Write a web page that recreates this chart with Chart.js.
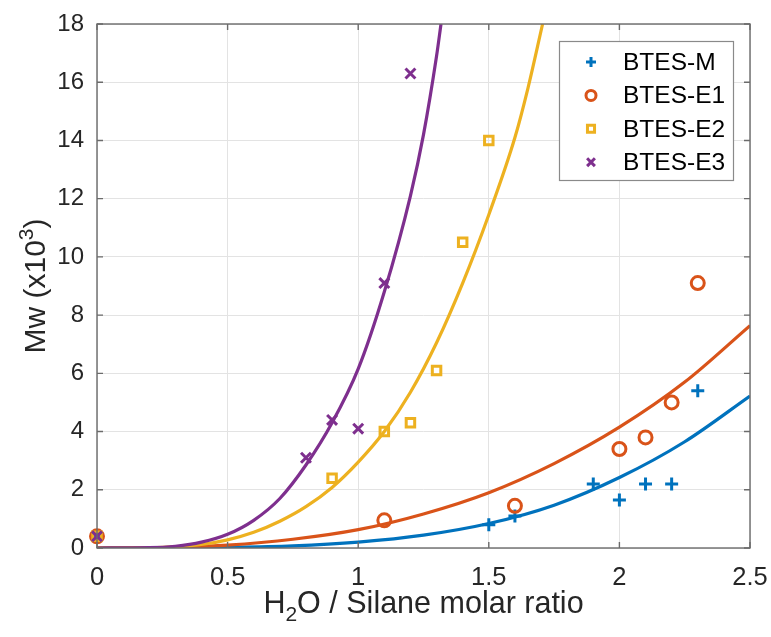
<!DOCTYPE html>
<html>
<head>
<meta charset="utf-8">
<script src="https://cdn.jsdelivr.net/npm/chart.js@4.4.1/dist/chart.umd.min.js"></script>
<style>
  html, body { margin: 0; padding: 0; background: #fff; }
  #chart { display: block; }
</style>
</head>
<body>
<canvas id="chart" width="771" height="637"></canvas>
<script>
var seriesNames = ["BTES-M", "BTES-E1", "BTES-E2", "BTES-E3"];
var seriesColors = ["#0072BD", "#D95319", "#EDB120", "#7E2F8E"];
var seriesMarkers = ["cross", "circle", "rect", "crossRot"];

// measured points
var mX = [0, 1.5, 1.6, 1.9, 2.0, 2.1, 2.2, 2.3];
var mY = [0.4, 0.8, 1.1, 2.2, 1.65, 2.2, 2.2, 5.4];
var e1X = [0, 1.1, 1.6, 2.0, 2.1, 2.2, 2.3];
var e1Y = [0.4, 0.95, 1.45, 3.4, 3.8, 5.0, 9.1];
var e2X = [0, 0.9, 1.1, 1.2, 1.3, 1.4, 1.5];
var e2Y = [0.4, 2.4, 4.0, 4.3, 6.1, 10.5, 14.0];
var e3X = [0, 0.8, 0.9, 1.0, 1.1, 1.2];
var e3Y = [0.4, 3.1, 4.4, 4.1, 9.1, 16.3];

// fitted curves
var fitMX = [0, 0.25, 0.5, 0.75, 1, 1.25, 1.5, 1.75, 2, 2.25, 2.5];
var fitMY = [0, 0.005, 0.02, 0.07, 0.2, 0.44, 0.84, 1.47, 2.42, 3.65, 5.22];
var fitE1X = [0, 0.25, 0.5, 0.75, 1, 1.25, 1.5, 1.75, 2, 2.25, 2.5];
var fitE1Y = [0, 0.015, 0.1, 0.3, 0.63, 1.17, 1.9, 2.9, 4.15, 5.7, 7.64];
var fitE2X = [0, 0.2, 0.3, 0.4, 0.5, 0.6, 0.7, 0.8, 0.9, 1.0, 1.1, 1.2, 1.3, 1.4, 1.5, 1.6, 1.65, 1.706];
var fitE2Y = [0, 0.01, 0.04, 0.12, 0.28, 0.54, 0.92, 1.42, 2.08, 2.95, 4.0, 5.35, 7.05, 9.1, 11.45, 14.1, 15.8, 18];
var fitE3X = [0, 0.2, 0.3, 0.4, 0.5, 0.6, 0.7, 0.8, 0.9, 1.0, 1.1, 1.2, 1.25, 1.3, 1.317];
var fitE3Y = [0, 0.01, 0.06, 0.2, 0.47, 0.95, 1.7, 2.85, 4.3, 6.15, 8.8, 12.1, 14.2, 16.9, 18];

var xTickLabels = ["0", "0.5", "1", "1.5", "2", "2.5"];
var yTickLabels = ["0", "2", "4", "6", "8", "10", "12", "14", "16", "18"];

var FONT = "'Liberation Sans', Arial, sans-serif";
var AXIS_COLOR = "#6b6b6b";
var TEXT_COLOR = "#262626";

function pts(xs, ys) {
    return xs.map(function (x, i) { return { x: x, y: ys[i] }; });
}

var pointSets = [pts(mX, mY), pts(e1X, e1Y), pts(e2X, e2Y), pts(e3X, e3Y)];
var fitSets = [pts(fitMX, fitMY), pts(fitE1X, fitE1Y), pts(fitE2X, fitE2Y), pts(fitE3X, fitE3Y)];
var markerRadius = [6.5, 6.5, 6, 7];

var datasets = [];
for (var i = 0; i < 4; i++) {
    datasets.push({
        label: seriesNames[i] + " fit",
        data: fitSets[i],
        showLine: true,
        borderColor: seriesColors[i],
        borderWidth: 3.2,
        pointRadius: 0,
        cubicInterpolationMode: "monotone",
        order: 3 - i
    });
}
for (var j = 0; j < 4; j++) {
    datasets.push({
        label: seriesNames[j],
        data: pointSets[j],
        showLine: false,
        pointStyle: seriesMarkers[j],
        pointRadius: markerRadius[j],
        pointBorderWidth: 3,
        borderColor: seriesColors[j],
        backgroundColor: "rgba(0,0,0,0)",
        pointBackgroundColor: "rgba(0,0,0,0)",
        clip: false,
        order: 10 - j
    });
}

function drawParts(ctx, parts, cx, baseline) {
    var total = 0;
    parts.forEach(function (p) {
        ctx.font = p.size + "px " + FONT;
        p.w = ctx.measureText(p.t).width;
        total += p.w;
    });
    var x = cx - total / 2;
    parts.forEach(function (p) {
        ctx.font = p.size + "px " + FONT;
        ctx.fillText(p.t, x, baseline + (p.dy || 0));
        x += p.w;
    });
}

var decorPlugin = {
    id: "decor",
    afterDatasetsDraw: function (chart) {
        var ctx = chart.ctx;
        var a = chart.chartArea;
        var xs = chart.scales.x, ys = chart.scales.y;
        ctx.save();
        ctx.strokeStyle = AXIS_COLOR;
        ctx.lineWidth = 1.4;
        ctx.strokeRect(a.left, a.top, a.right - a.left, a.bottom - a.top);
        // inward ticks on all four sides
        ctx.beginPath();
        xs.ticks.forEach(function (t) {
            var px = xs.getPixelForValue(t.value);
            ctx.moveTo(px, a.bottom); ctx.lineTo(px, a.bottom - 6);
            ctx.moveTo(px, a.top); ctx.lineTo(px, a.top + 6);
        });
        ys.ticks.forEach(function (t) {
            var py = ys.getPixelForValue(t.value);
            ctx.moveTo(a.left, py); ctx.lineTo(a.left + 6, py);
            ctx.moveTo(a.right, py); ctx.lineTo(a.right - 6, py);
        });
        ctx.stroke();
        ctx.restore();
    },
    afterDraw: function (chart) {
        var ctx = chart.ctx;
        var a = chart.chartArea;
        ctx.save();
        ctx.fillStyle = TEXT_COLOR;
        ctx.textBaseline = "alphabetic";
        ctx.textAlign = "left";
        // x title
        drawParts(ctx, [
            { t: "H", size: 30.5 },
            { t: "2", size: 21, dy: 8 },
            { t: "O / Silane molar ratio", size: 30.5 }
        ], (a.left + a.right) / 2, 613);
        // y title
        ctx.save();
        ctx.translate(45, (a.top + a.bottom) / 2);
        ctx.rotate(-Math.PI / 2);
        drawParts(ctx, [
            { t: "Mw (x10", size: 30 },
            { t: "3", size: 21, dy: -12 },
            { t: ")", size: 30 }
        ], 0, 0);
        ctx.restore();

        // legend box
        var bx = 559.5, by = 41.5, bw = 174, bh = 139;
        ctx.fillStyle = "#fff";
        ctx.fillRect(bx, by, bw, bh);
        ctx.strokeStyle = "#8a8a8a";
        ctx.lineWidth = 1.2;
        ctx.strokeRect(bx, by, bw, bh);
        ctx.font = "24.5px " + FONT;
        ctx.textBaseline = "middle";
        for (var k = 0; k < 4; k++) {
            var ry = 62 + k * 33.4;
            ctx.strokeStyle = seriesColors[k];
            ctx.fillStyle = "rgba(0,0,0,0)";
            ctx.lineWidth = 3;
            Chart.helpers.drawPoint(ctx, {
                pointStyle: seriesMarkers[k],
                radius: k === 3 ? 5.5 : 5,
                borderWidth: 3,
                rotation: 0
            }, 591, ry);
            ctx.fillStyle = "#000";
            ctx.fillText(seriesNames[k], 623, ry + 1);
        }
        ctx.restore();
    }
};

new Chart(document.getElementById("chart"), {
    type: "scatter",
    data: { datasets: datasets },
    options: {
        responsive: false,
        animation: false,
        devicePixelRatio: 1,
        layout: { padding: { left: 0, right: 21, top: 24, bottom: 0 } },
        plugins: {
            legend: { display: false },
            tooltip: { enabled: false }
        },
        scales: {
            x: {
                type: "linear",
                min: 0,
                max: 2.5,
                afterFit: function (s) {
                    s.height = 89;
                    s.paddingLeft = 0;
                    s.paddingRight = 0;
                },
                afterBuildTicks: function (s) {
                    s.ticks = xTickLabels.map(function (l, i) { return { value: i * 0.5 }; });
                },
                ticks: {
                    color: TEXT_COLOR,
                    font: { family: FONT, size: 25.5 },
                    padding: 15,
                    maxRotation: 0,
                    callback: function (v, i) { return xTickLabels[i]; }
                },
                grid: { color: "#e3e3e3", lineWidth: 1, drawTicks: false },
                border: { display: false }
            },
            y: {
                type: "linear",
                min: 0,
                max: 18,
                afterFit: function (s) {
                    s.width = 97;
                    s.paddingTop = 0;
                    s.paddingBottom = 0;
                },
                afterBuildTicks: function (s) {
                    s.ticks = yTickLabels.map(function (l, i) { return { value: i * 2 }; });
                },
                ticks: {
                    color: TEXT_COLOR,
                    font: { family: FONT, size: 24 },
                    padding: 13,
                    callback: function (v, i) { return yTickLabels[i]; }
                },
                grid: { color: "#e3e3e3", lineWidth: 1, drawTicks: false },
                border: { display: false }
            }
        }
    },
    plugins: [decorPlugin]
});
</script>
</body>
</html>
